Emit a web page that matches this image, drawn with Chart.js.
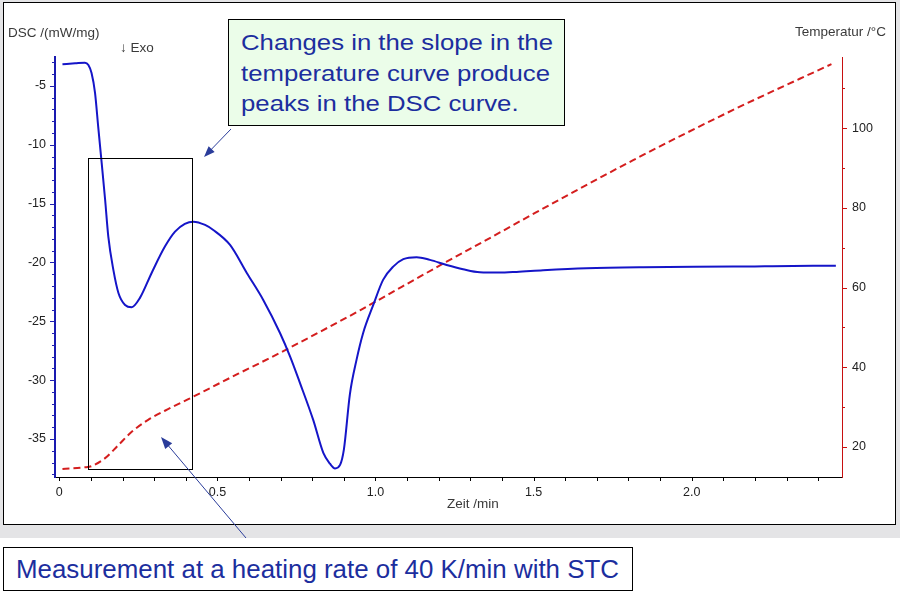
<!DOCTYPE html>
<html>
<head>
<meta charset="utf-8">
<script src="https://cdn.jsdelivr.net/npm/chart.js@4"></script>
<style>
  html, body { margin: 0; padding: 0; background: #fff; }
  body { width: 900px; height: 594px; position: relative; overflow: hidden; font-family: "Liberation Sans", Arial, sans-serif; }
  .band { position: absolute; left: 0; top: 0; width: 900px; height: 538px; background: #e4e4e6; }
  .frame { position: absolute; left: 3px; top: 2px; width: 891px; height: 521px; background: #fff; border: 1px solid #000; }
  .lbl { position: absolute; font-size: 13.5px; color: #3a3a3a; white-space: nowrap; line-height: 15px; }
  .note { position: absolute; left: 228px; top: 19px; width: 335px; height: 105px; background: #ebfde9; border: 1px solid #000; z-index: 3; }
  .note div { position: absolute; left: 12px; top: 8px; font-size: 22px; line-height: 30.5px; color: #1c2e9e; white-space: nowrap; transform: scaleX(1.17); transform-origin: left top; }
  .caption { position: absolute; left: 3px; top: 547px; width: 628px; height: 42px; background: #fff; border: 1px solid #000; }
  .caption div { position: absolute; left: 12px; top: 7px; font-size: 25.9px; color: #1c2e9e; white-space: nowrap; }
  canvas { position: absolute; left: 0; top: 0; z-index: 2; }
</style>
</head>
<body>
<div class="band"></div>
<div class="frame"></div>
<div class="caption"><div>Measurement at a heating rate of 40 K/min with STC</div></div>
<canvas id="chart" width="900" height="594"></canvas>
<div class="lbl" style="left:8px;top:25px;z-index:3">DSC /(mW/mg)</div>
<div class="lbl" style="left:120px;top:40px;z-index:3">↓ Exo</div>
<div class="lbl" style="left:795px;top:24px;z-index:3">Temperatur /°C</div>
<div class="lbl" style="left:447px;top:496px;z-index:3">Zeit /min</div>
<div class="note"><div>Changes in the slope in the<br>temperature curve produce<br>peaks in the DSC curve.</div></div>
<script>
// DSC signal (mW/mg) against time (min)
var dscTime = [0.01, 0.05, 0.081, 0.092, 0.102, 0.113, 0.123, 0.134, 0.145, 0.155, 0.171, 0.187, 0.208, 0.229, 0.255, 0.292, 0.334, 0.366, 0.397, 0.424, 0.461, 0.487, 0.540, 0.593, 0.645, 0.698, 0.730, 0.761, 0.803, 0.835, 0.856, 0.872, 0.888, 0.900, 0.919, 0.940, 0.961, 0.993, 1.024, 1.056, 1.088, 1.130, 1.172, 1.225, 1.277, 1.330, 1.390, 1.446, 1.530, 1.667, 1.847, 2.131, 2.384, 2.456];
var dscValue = [-3.16, -3.08, -3.02, -3.22, -3.90, -5.59, -8.46, -11.54, -14.69, -17.80, -20.63, -22.59, -23.61, -23.80, -23.01, -20.89, -18.65, -17.38, -16.72, -16.53, -16.81, -17.24, -18.51, -20.89, -23.18, -25.99, -28.00, -30.23, -33.38, -36.18, -37.10, -37.50, -37.20, -35.90, -31.20, -28.28, -25.99, -23.61, -21.48, -20.35, -19.72, -19.55, -19.78, -20.21, -20.57, -20.83, -20.86, -20.80, -20.66, -20.49, -20.40, -20.35, -20.27, -20.27];

// sample temperature (°C) against time (min)
var tempTime = [0.01, 0.081, 0.102, 0.145, 0.187, 0.229, 0.281, 0.334, 0.408, 0.482, 0.566, 0.640, 0.719, 0.824, 0.951, 1.083, 1.225, 1.372, 1.499, 1.815, 2.131, 2.442];
var tempValue = [14.5, 14.9, 15.2, 17.2, 20.5, 23.8, 26.8, 29.1, 32.0, 35.0, 38.4, 41.3, 44.5, 48.9, 54.3, 60.2, 66.5, 72.9, 78.5, 92.0, 104.6, 116.1];

var timeTicks = [0, 0.5, 1.0, 1.5, 2.0];
var dscTicks = [-35, -30, -25, -20, -15, -10, -5];
var tempTicks = [20, 40, 60, 80, 100];

function toPoints(xs, ys) {
  return xs.map(function (x, i) { return { x: x, y: ys[i] }; });
}

function fixTicks(list) {
  return function (scale) { scale.ticks = list.map(function (v) { return { value: v }; }); };
}

function arrow(ctx, x1, y1, x2, y2, head) {
  var a = Math.atan2(y2 - y1, x2 - x1);
  var c = Math.cos(a), s = Math.sin(a);
  ctx.beginPath();
  ctx.moveTo(x1, y1);
  ctx.lineTo(x2 - c * head * 0.8, y2 - s * head * 0.8);
  ctx.stroke();
  ctx.beginPath();
  ctx.moveTo(x2, y2);
  ctx.lineTo(x2 - head * c + head * 0.38 * s, y2 - head * s - head * 0.38 * c);
  ctx.lineTo(x2 - head * c - head * 0.38 * s, y2 - head * s + head * 0.38 * c);
  ctx.closePath();
  ctx.fill();
}

var extras = {
  id: 'extras',
  afterDatasetsDraw: function (chart) {
    var ctx = chart.ctx, a = chart.chartArea;
    var x = chart.scales.x, y = chart.scales.y, y2 = chart.scales.y2;
    var i, p, len;
    ctx.save();
    ctx.lineWidth = 1;

    // left axis ticks, every 1 unit
    ctx.strokeStyle = '#2020b0';
    for (i = -38; i <= -3; i++) {
      p = Math.round(y.getPixelForValue(i)) + 0.5;
      len = i % 5 === 0 ? 5 : 3;
      ctx.beginPath(); ctx.moveTo(a.left - len, p); ctx.lineTo(a.left, p); ctx.stroke();
    }
    // right axis ticks, every 10 units
    ctx.strokeStyle = '#c81010';
    for (i = 20; i <= 110; i += 10) {
      p = Math.round(y2.getPixelForValue(i)) + 0.5;
      len = i % 20 === 0 ? 5 : 3;
      ctx.beginPath(); ctx.moveTo(a.right, p); ctx.lineTo(a.right + len, p); ctx.stroke();
    }
    // time ticks, every 0.1 min
    ctx.strokeStyle = '#000';
    for (i = 0; i <= 24; i++) {
      p = Math.round(x.getPixelForValue(i / 10)) + 0.5;
      ctx.beginPath(); ctx.moveTo(p, a.bottom); ctx.lineTo(p, a.bottom + 4); ctx.stroke();
    }

    // box around the first peak
    var bx1 = Math.round(x.getPixelForValue(0.092)) + 0.5;
    var bx2 = Math.round(x.getPixelForValue(0.421)) + 0.5;
    var by1 = Math.round(y.getPixelForValue(-11.14)) + 0.5;
    var by2 = Math.round(y.getPixelForValue(-37.55)) + 0.5;
    ctx.strokeStyle = '#000';
    ctx.strokeRect(bx1, by1, bx2 - bx1, by2 - by1);

    // pointer arrows from the notes
    ctx.strokeStyle = '#2a3c9a';
    ctx.fillStyle = '#2a3c9a';
    arrow(ctx, 231, 129, 204, 157, 11);
    arrow(ctx, 246, 538, 161, 437, 12);
    ctx.restore();
  }
};

new Chart('chart', {
  type: 'line',
  data: {
    datasets: [
      {
        label: 'DSC',
        data: toPoints(dscTime, dscValue),
        yAxisID: 'y',
        borderColor: '#1515c8',
        borderWidth: 2,
        pointRadius: 0,
        cubicInterpolationMode: 'monotone',
        fill: false
      },
      {
        label: 'Temperatur',
        data: toPoints(tempTime, tempValue),
        yAxisID: 'y2',
        borderColor: '#d41e1e',
        borderWidth: 2,
        borderDash: [7, 4],
        pointRadius: 0,
        cubicInterpolationMode: 'monotone',
        fill: false
      }
    ]
  },
  options: {
    responsive: false,
    animation: false,
    devicePixelRatio: 1,
    layout: { padding: { top: 57, left: 0, right: 0, bottom: 0 } },
    plugins: { legend: { display: false }, tooltip: { enabled: false } },
    scales: {
      x: {
        type: 'linear',
        position: 'bottom',
        min: -0.0136,
        max: 2.4754,
        afterBuildTicks: fixTicks(timeTicks),
        afterFit: function (s) { s.height = 117; },
        grid: { display: false, drawTicks: false },
        border: { display: true, color: '#000', width: 1 },
        ticks: {
          padding: 8,
          color: '#222',
          font: { family: 'Liberation Sans', size: 12.5 },
          callback: function (v) { return v === 0 ? '0' : v.toFixed(1); }
        }
      },
      y: {
        type: 'linear',
        position: 'left',
        min: -38.23,
        max: -2.54,
        afterBuildTicks: fixTicks(dscTicks),
        afterFit: function (s) { s.width = 55; },
        grid: { display: false, drawTicks: false },
        border: { display: true, color: '#1a1ab0', width: 2 },
        ticks: {
          padding: 9,
          color: '#222',
          font: { family: 'Liberation Sans', size: 12.5 }
        }
      },
      y2: {
        type: 'linear',
        position: 'right',
        min: 12.47,
        max: 117.89,
        afterBuildTicks: fixTicks(tempTicks),
        afterFit: function (s) { s.width = 58; },
        grid: { display: false, drawTicks: false },
        border: { display: true, color: '#c81010', width: 1 },
        ticks: {
          padding: 10,
          color: '#222',
          font: { family: 'Liberation Sans', size: 12.5 }
        }
      }
    }
  },
  plugins: [extras]
});
</script>
</body>
</html>
